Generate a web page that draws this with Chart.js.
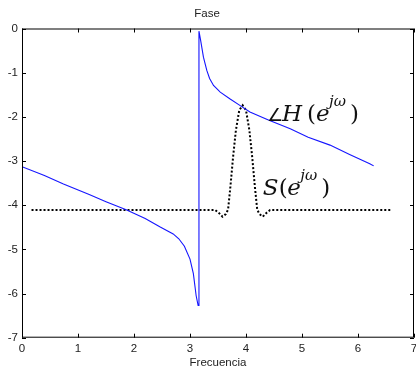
<!DOCTYPE html>
<html>
<head>
<meta charset="utf-8">
<script src="https://cdn.jsdelivr.net/npm/chart.js"></script>
<style>
  body { margin: 0; background: #fff; }
  #wrap { width: 416px; height: 368px; }
</style>
</head>
<body>
<div id="wrap"><canvas id="chartFase" width="416" height="368"></canvas></div>
<script>
// Fase de H(e^jw)
const phaseFreq = [0, 0.4, 0.74, 1.2, 1.5, 1.85, 2.2, 2.46, 2.7, 2.8, 2.9, 3.0, 3.06, 3.11, 3.145,
                   3.16, 3.19, 3.24, 3.3, 3.35, 3.42, 3.54, 3.71, 3.89, 4.07, 4.4, 4.79, 5.11, 5.5, 5.85, 6.21, 6.28];
const phaseVals = [-3.13, -3.33, -3.52, -3.76, -3.92, -4.1, -4.3, -4.49, -4.65, -4.76, -4.93, -5.22, -5.55, -6.05, -6.27,
                   -0.06, -0.27, -0.65, -0.95, -1.13, -1.29, -1.44, -1.59, -1.74, -1.89, -2.07, -2.27, -2.46, -2.64, -2.85, -3.06, -3.11];

// Espectro S(e^jw) (punteado)
const specFreq = [0.17, 3.45, 3.52, 3.58, 3.64, 3.68, 3.72, 3.77, 3.82, 3.88, 3.94, 4.0, 4.06, 4.11, 4.16, 4.2, 4.24, 4.3, 4.36, 4.43, 6.61];
const specVals = [-4.11, -4.11, -4.18, -4.26, -4.2, -4.1, -3.6, -2.9, -2.3, -1.85, -1.74, -1.85, -2.3, -2.9, -3.6, -4.1, -4.2, -4.26, -4.18, -4.11, -4.11];

const xRange = [0, 7];
const yRange = [-7, 0];

const tickFont = { family: 'Liberation Sans, Arial, sans-serif', size: 11.5 };

// Marco tipo MATLAB con marcas hacia dentro y etiquetas matematicas
const axesBox = {
    id: 'axesBox',
    afterDatasetsDraw(chart) {
        const { ctx, chartArea: a, scales: { x, y } } = chart;
        ctx.save();
        ctx.strokeStyle = '#000';
        ctx.lineWidth = 1;
        ctx.strokeRect(a.left + 0.5, a.top + 0.5, a.right - a.left - 1, a.bottom - a.top - 1);
        ctx.beginPath();
        x.ticks.forEach(t => {
            const px = Math.round(x.getPixelForValue(t.value)) + 0.5;
            ctx.moveTo(px, a.bottom); ctx.lineTo(px, a.bottom - 4);
            ctx.moveTo(px, a.top); ctx.lineTo(px, a.top + 4);
        });
        y.ticks.forEach(t => {
            const py = Math.round(y.getPixelForValue(t.value)) + 0.5;
            ctx.moveTo(a.left, py); ctx.lineTo(a.left + 4, py);
            ctx.moveTo(a.right, py); ctx.lineTo(a.right - 4, py);
        });
        ctx.stroke();

        // etiquetas ∠H(e^{jω}) y S(e^{jω})
        const serif = '"DejaVu Serif", "Liberation Serif", serif';
        ctx.fillStyle = '#111';
        ctx.textBaseline = 'alphabetic';
        ctx.textAlign = 'left';
        function drawPieces(px, py, pieces) {
            pieces.forEach(p => {
                if (p.sup) ctx.font = 'italic 15px ' + serif;
                else if (p.ang) ctx.font = '18px "DejaVu Sans", sans-serif';
                else ctx.font = (p.it ? 'italic ' : '') + '23px ' + serif;
                ctx.fillText(p.t, px + p.dx, py - (p.sup ? 15 : 0));
            });
        }
        drawPieces(x.getPixelForValue(4.375), y.getPixelForValue(-2.09), [
            { t: '∠', dx: 0, ang: true }, { t: 'H', dx: 15, it: true }, { t: '(', dx: 40 },
            { t: 'e', dx: 49, it: true }, { t: 'jω', dx: 62, sup: true }, { t: ')', dx: 83 }
        ]);
        drawPieces(x.getPixelForValue(4.3), y.getPixelForValue(-3.76), [
            { t: 'S', dx: 0, it: true }, { t: '(', dx: 16 },
            { t: 'e', dx: 24.5, it: true }, { t: 'jω', dx: 37.5, sup: true }, { t: ')', dx: 58.5 }
        ]);
        ctx.restore();
    }
};

new Chart(document.getElementById('chartFase'), {
    type: 'line',
    data: {
        datasets: [{
            data: phaseFreq.map((f, i) => ({ x: f, y: phaseVals[i] })),
            borderColor: '#1515ff',
            borderWidth: 1.1,
            pointRadius: 0,
            tension: 0
        }, {
            data: specFreq.map((f, i) => ({ x: f, y: specVals[i] })),
            borderColor: '#000',
            borderWidth: 2,
            borderDash: [2, 2],
            pointRadius: 0,
            tension: 0
        }]
    },
    options: {
        responsive: false,
        animation: false,
        layout: { padding: { left: 0, right: 2, top: 0, bottom: 0 } },
        plugins: {
            legend: { display: false },
            tooltip: { enabled: false },
            title: {
                display: true,
                text: 'Fase',
                color: '#222',
                font: { family: tickFont.family, size: 11.5, weight: 'normal', lineHeight: 1 },
                padding: { top: 8.5, bottom: 8.5 }
            }
        },
        scales: {
            x: {
                type: 'linear',
                min: xRange[0], max: xRange[1],
                grid: { display: false, drawTicks: false },
                border: { display: false },
                ticks: { stepSize: 1, color: '#222', font: tickFont, padding: 4, maxRotation: 0 },
                title: {
                    display: true, text: 'Frecuencia', color: '#222',
                    font: { family: tickFont.family, size: 11.5, lineHeight: 1 },
                    padding: { top: 0, bottom: -1 }
                },
                afterFit(scale) { scale.height = 30.3; scale.paddingLeft = 0; scale.paddingRight = 0; }
            },
            y: {
                min: yRange[0], max: yRange[1],
                grid: { display: false, drawTicks: false },
                border: { display: false },
                ticks: { stepSize: 1, color: '#222', font: tickFont, padding: 4 },
                afterFit(scale) { scale.width = 22; scale.paddingTop = 0; scale.paddingBottom = 0; }
            }
        }
    },
    plugins: [axesBox]
});
</script>
</body>
</html>
